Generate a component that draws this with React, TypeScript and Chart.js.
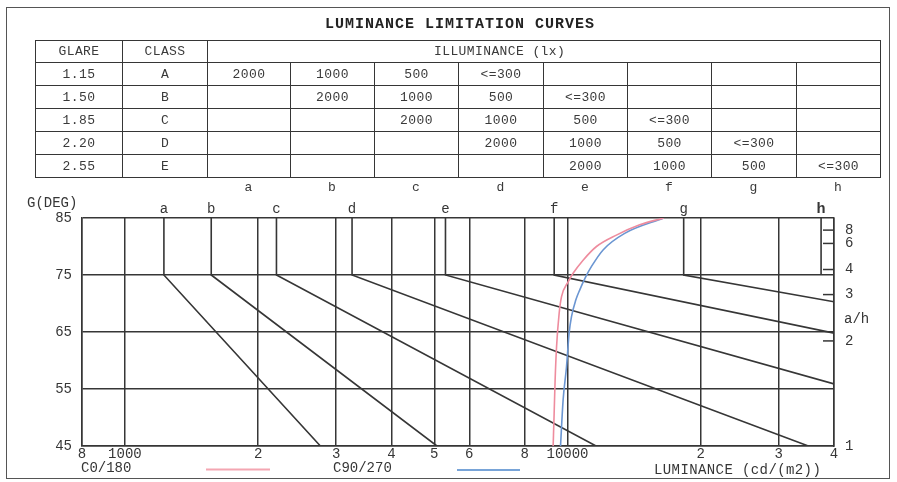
import React, { useEffect, useRef } from "react";
import { Chart, registerables } from "chart.js";
Chart.register(...registerables);

// ---------- table data ----------
const titleText = "LUMINANCE LIMITATION CURVES";
const glareValues = ["1.15", "1.50", "1.85", "2.20", "2.55"];
const classValues = ["A", "B", "C", "D", "E"];
const curveLetters = ["a", "b", "c", "d", "e", "f", "g", "h"];
const illuminanceRows = [
  ["2000", "1000", "500", "<=300", "", "", "", ""],
  ["", "2000", "1000", "500", "<=300", "", "", ""],
  ["", "", "2000", "1000", "500", "<=300", "", ""],
  ["", "", "", "2000", "1000", "500", "<=300", ""],
  ["", "", "", "", "2000", "1000", "500", "<=300"],
];

// ---------- axis ticks ----------
const xTickValues = [800, 1000, 2000, 3000, 4000, 5000, 6000, 8000, 10000, 20000, 30000, 40000];
const xTickLabels = ["8", "1000", "2", "3", "4", "5", "6", "8", "10000", "2", "3", "4"];
const yTickValues = [45, 55, 65, 75, 85];
const ahTickLabels = [1, 2, 3, 4, 6, 8];

// ---------- limit curves a..h ----------
const curveStartL = [1225, 1567, 2200, 3260, 5300, 9330, 18300, 37400];
const curveEndL = [2765, 5070, 11600, 35000, 40000, 40000, 40000, null];
const curveEndG = [45, 45, 45, 45, 55.9, 64.8, 70.3, null];

// ---------- luminaire curves ----------
const c0Lum = [9280, 9328, 9376, 9446, 9575, 9694, 10032, 10294, 10844, 11627, 12895, 14560, 16500];
const c0Deg = [45, 50.7, 56.6, 62.4, 68.3, 71.2, 73.8, 75.3, 77.6, 80.0, 82.0, 83.8, 85];
const c90Lum = [9643, 9774, 9948, 10083, 10209, 10440, 10659, 10998, 11329, 12032, 13463, 16500];
const c90Deg = [45, 53.1, 58.9, 64.8, 67.7, 70.6, 72.4, 74.7, 76.5, 79.4, 82.3, 85];

const INK = "#363636";
const MONO = '"Liberation Mono", "DejaVu Sans Mono", monospace';
const RED = "#ee8c9e";
const BLUE = "#6b96d2";

const colWidths = [87, 85, 83, 84, 84, 85, 84, 84, 85, 84];

const decorPlugin = {
  id: "decor",
  afterDraw(chart: any) {
    const { ctx, chartArea, scales } = chart;
    const xs = scales.x;
    const yr = scales.yR;
    ctx.save();
    // inner ticks of right a/h axis
    ctx.strokeStyle = INK;
    ctx.lineWidth = 1.5;
    ahTickLabels.forEach((n) => {
      if (n === 1) return;
      const y = yr.getPixelForValue((Math.atan(n) * 180) / Math.PI);
      ctx.beginPath();
      ctx.moveTo(chartArea.right - 11, y);
      ctx.lineTo(chartArea.right, y);
      ctx.stroke();
    });
    // curve letters above plot
    ctx.fillStyle = INK;
    ctx.textAlign = "center";
    ctx.textBaseline = "alphabetic";
    curveLetters.forEach((l, i) => {
      ctx.font = (l === "h" ? "bold 15px " : "14px ") + MONO;
      const x = xs.getPixelForValue(curveStartL[i]);
      ctx.fillText(l, x, chartArea.top - 5);
    });
    ctx.font = "14px " + MONO;
    ctx.textBaseline = "middle";
    ctx.textAlign = "left";
    ctx.fillText("G(DEG)", 27, 203);
    ctx.fillText("a/h", 844, 319);
    // legend
    ctx.fillText("C0/180", 81, 468);
    ctx.fillText("C90/270", 333, 468);
    (ctx as any).letterSpacing = "0.4px";
    ctx.fillText("LUMINANCE (cd/(m2))", 654, 470);
    (ctx as any).letterSpacing = "0px";
    ctx.lineWidth = 2;
    ctx.strokeStyle = "#f4a6b2";
    ctx.beginPath();
    ctx.moveTo(206, 469.5);
    ctx.lineTo(270, 469.5);
    ctx.stroke();
    ctx.strokeStyle = "#78a4d8";
    ctx.beginPath();
    ctx.moveTo(457, 470);
    ctx.lineTo(520, 470);
    ctx.stroke();
    ctx.restore();
  },
};

export default function App() {
  const canvasRef = useRef<HTMLCanvasElement | null>(null);

  useEffect(() => {
    if (!canvasRef.current) return;
    const limitSets = curveLetters.map((l, i) => {
      const pts: { x: number; y: number }[] = [
        { x: curveStartL[i], y: 85 },
        { x: curveStartL[i], y: 75 },
      ];
      if (curveEndL[i] != null) pts.push({ x: curveEndL[i] as number, y: curveEndG[i] as number });
      return {
        label: l,
        data: pts,
        borderColor: INK,
        borderWidth: 1.6,
        pointRadius: 0,
        showLine: true,
        tension: 0,
        fill: false,
      };
    });
    const chart = new Chart(canvasRef.current, {
      type: "scatter",
      data: {
        datasets: [
          {
            label: "C0/180",
            data: c0Lum.map((x, i) => ({ x, y: c0Deg[i] })),
            borderColor: RED,
            borderWidth: 1.6,
            pointRadius: 0,
            showLine: true,
            cubicInterpolationMode: "monotone",
            fill: false,
          },
          {
            label: "C90/270",
            data: c90Lum.map((x, i) => ({ x, y: c90Deg[i] })),
            borderColor: BLUE,
            borderWidth: 1.6,
            pointRadius: 0,
            showLine: true,
            cubicInterpolationMode: "monotone",
            fill: false,
          },
          ...limitSets,
        ] as any,
      },
      options: {
        responsive: false,
        animation: false,
        layout: { padding: { top: 218, left: 0, right: 0, bottom: 0 } },
        plugins: { legend: { display: false }, tooltip: { enabled: false }, title: { display: false } },
        scales: {
          x: {
            type: "logarithmic",
            min: 800,
            max: 40000,
            afterBuildTicks: (s: any) => {
              s.ticks = xTickValues.map((v) => ({ value: v }));
            },
            afterFit: (s: any) => {
              s.height = 36;
            },
            ticks: {
              autoSkip: false,
              maxRotation: 0,
              padding: 0,
              color: INK,
              font: { family: MONO, size: 14 },
              callback: (_v: any, i: number) => xTickLabels[i],
            },
            grid: { color: INK, lineWidth: 1.5, drawTicks: false },
            border: { color: INK, width: 1.5 },
          },
          y: {
            type: "linear",
            position: "left",
            min: 45,
            max: 85,
            afterBuildTicks: (s: any) => {
              s.ticks = yTickValues.map((v) => ({ value: v }));
            },
            afterFit: (s: any) => {
              s.width = 82;
            },
            ticks: {
              padding: 10,
              color: INK,
              font: { family: MONO, size: 14 },
              callback: (v: any) => String(v),
            },
            grid: { color: INK, lineWidth: 1.5, drawTicks: false },
            border: { color: INK, width: 1.5 },
          },
          yR: {
            type: "linear",
            position: "right",
            min: 45,
            max: 85,
            afterBuildTicks: (s: any) => {
              s.ticks = ahTickLabels.map((n) => ({ value: (Math.atan(n) * 180) / Math.PI }));
            },
            afterFit: (s: any) => {
              s.width = 63;
            },
            ticks: {
              padding: 11,
              color: INK,
              font: { family: MONO, size: 14 },
              callback: (_v: any, i: number) => String(ahTickLabels[i]),
            },
            grid: { drawOnChartArea: false, drawTicks: false },
            border: { color: INK, width: 1.5 },
          },
        },
      } as any,
      plugins: [decorPlugin],
    });
    return () => chart.destroy();
  }, []);

  const cellStyle: React.CSSProperties = {
    border: `1.5px solid ${INK}`,
    padding: 0,
    textAlign: "center",
    verticalAlign: "middle",
    overflow: "hidden",
    whiteSpace: "nowrap",
  };

  let acc = 35;
  const letterCenters = colWidths.map((w) => {
    const c = acc + w / 2;
    acc += w;
    return c;
  }).slice(2);

  return (
    <div style={{ position: "absolute", left: 0, top: 0, width: 897, height: 482, background: "#fff", overflow: "hidden" }}>
      <canvas ref={canvasRef} width={897} height={482} style={{ position: "absolute", left: 0, top: 0, width: 897, height: 482 }} />
      <div
        style={{
          position: "absolute",
          left: 6,
          top: 7,
          width: 884,
          height: 472,
          border: "1.5px solid #555",
          boxSizing: "border-box",
          pointerEvents: "none",
        }}
      />
      <div
        style={{
          position: "absolute",
          left: 325,
          top: 16,
          fontFamily: MONO,
          fontWeight: "bold",
          fontSize: 15,
          letterSpacing: "1px",
          lineHeight: "18px",
          color: "#222",
          whiteSpace: "nowrap",
        }}
      >
        {titleText}
      </div>
      <table
        style={{
          position: "absolute",
          left: 35,
          top: 40,
          width: 845,
          borderCollapse: "collapse",
          tableLayout: "fixed",
          fontFamily: MONO,
          fontSize: 13,
          letterSpacing: "0.4px",
          color: "#3a3a3a",
        }}
      >
        <colgroup>
          {colWidths.map((w, i) => (
            <col key={i} style={{ width: w }} />
          ))}
        </colgroup>
        <tbody>
          <tr style={{ height: 22 }}>
            <td style={cellStyle}>GLARE</td>
            <td style={cellStyle}>CLASS</td>
            <td colSpan={8} style={{ ...cellStyle, textAlign: "left", paddingLeft: 226 }}>
              ILLUMINANCE (lx)
            </td>
          </tr>
          {glareValues.map((g, r) => (
            <tr key={r} style={{ height: 23 }}>
              <td style={cellStyle}>{g}</td>
              <td style={cellStyle}>{classValues[r]}</td>
              {illuminanceRows[r].map((v, c) => (
                <td key={c} style={cellStyle}>
                  {v}
                </td>
              ))}
            </tr>
          ))}
        </tbody>
      </table>
      {curveLetters.map((l, i) => (
        <div
          key={l}
          style={{
            position: "absolute",
            left: letterCenters[i] - 20,
            width: 40,
            top: 180,
            lineHeight: "16px",
            textAlign: "center",
            fontFamily: MONO,
            fontSize: 13,
            color: "#3a3a3a",
          }}
        >
          {l}
        </div>
      ))}
    </div>
  );
}
